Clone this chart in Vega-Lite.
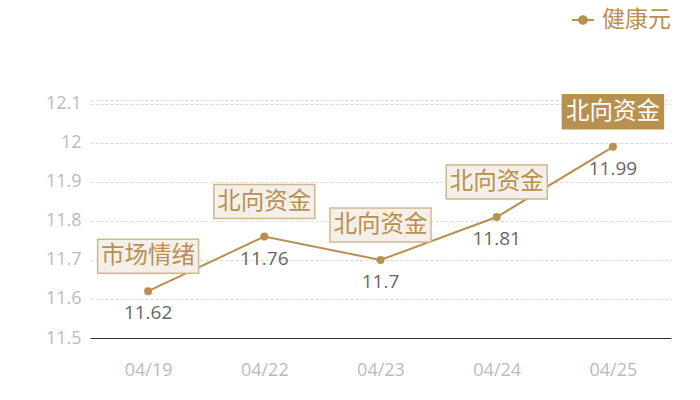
{
  "$schema": "https://vega.github.io/schema/vega-lite/v6.json",
  "width": 581,
  "height": 238,
  "autosize": {"type": "none"},
  "padding": {"left": 90, "top": 100, "right": 29, "bottom": 62},
  "background": "#ffffff",
  "config": {
    "view": {"stroke": null},
    "font": "Noto Sans CJK SC"
  },
  "data": {
    "values": [
      {"date": "04/19", "value": 11.62, "tag": "市场情绪"},
      {"date": "04/22", "value": 11.76, "tag": "北向资金"},
      {"date": "04/23", "value": 11.7, "tag": "北向资金"},
      {"date": "04/24", "value": 11.81, "tag": "北向资金"},
      {"date": "04/25", "value": 11.99, "tag": "北向资金"}
    ]
  },
  "encoding": {
    "x": {
      "field": "date",
      "type": "ordinal",
      "scale": {"type": "point", "padding": 0.5},
      "axis": {
        "title": null,
        "labelAngle": 0,
        "ticks": false,
        "domain": true,
        "domainColor": "#333333",
        "domainWidth": 1,
        "labelColor": "#bbbbbb",
        "labelFont": "Open Sans",
        "labelFontSize": 18,
        "labelPadding": 23,
        "grid": false
      }
    },
    "y": {
      "field": "value",
      "type": "quantitative",
      "scale": {"domain": [11.5, 12.11], "nice": false, "zero": false},
      "axis": {
        "title": null,
        "values": [11.5, 11.6, 11.7, 11.8, 11.9, 12, 12.1, 12.11],
        "labelExpr": "datum.value > 12.105 ? '' : datum.label",
        "format": "",
        "domain": false,
        "ticks": false,
        "labelColor": "#bbbbbb",
        "labelFont": "Open Sans",
        "labelFontSize": 18,
        "labelPadding": 9,
        "grid": true,
        "gridColor": "#d9d9d9",
        "gridDash": [3, 2],
        "gridWidth": 1
      }
    }
  },
  "layer": [
    {
      "mark": {
        "type": "line",
        "strokeWidth": 2,
        "point": {"filled": true, "size": 64, "color": "#b8904f", "opacity": 1}
      },
      "encoding": {
        "color": {
          "datum": "健康元",
          "scale": {"range": ["#b8904f"]},
          "legend": {
            "title": null,
            "orient": "none",
            "legendX": 481,
            "legendY": -92,
            "labelFontSize": 23,
            "labelColor": "#b8904f",
            "labelFont": "Noto Sans CJK SC",
            "symbolType": "M-1,0L-0.35,0M0.35,0L1,0M-0.35,0A0.35,0.35 0 1,0 0.35,0A0.35,0.35 0 1,0 -0.35,0Z",
            "symbolSize": 484,
            "symbolStrokeWidth": 2,
            "symbolFillColor": "#b8904f",
            "symbolStrokeColor": "#b8904f",
            "labelOffset": 7
          }
        }
      }
    },
    {
      "mark": {
        "type": "point",
        "shape": "M-1,-0.3366L1,-0.3366L1,0.3366L-1,0.3366Z",
        "size": 10201,
        "filled": false,
        "yOffset": -35,
        "strokeWidth": 1.5,
        "opacity": 1
      },
      "encoding": {
        "fill": {
          "condition": {"test": "datum.date === '04/25'", "value": "#b8904f"},
          "value": "#f4efe8"
        },
        "stroke": {
          "condition": {"test": "datum.date === '04/25'", "value": "#b8904f"},
          "value": "#d2b78c"
        },
        "fillOpacity": {"value": 1}
      }
    },
    {
      "mark": {
        "type": "text",
        "yOffset": -35,
        "fontSize": 23.5,
        "baseline": "middle",
        "align": "center"
      },
      "encoding": {
        "text": {"field": "tag"},
        "color": {
          "condition": {"test": "datum.date === '04/25'", "value": "#ffffff"},
          "value": "#b8904f"
        }
      }
    },
    {
      "mark": {
        "type": "text",
        "yOffset": 22,
        "fontSize": 19,
        "font": "Open Sans",
        "baseline": "middle",
        "align": "center",
        "color": "#666666"
      },
      "encoding": {
        "text": {"field": "value", "type": "quantitative", "format": ""}
      }
    }
  ]
}
